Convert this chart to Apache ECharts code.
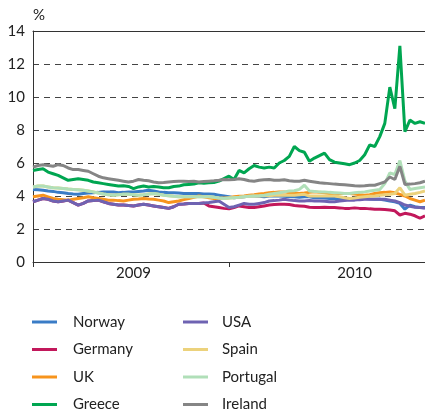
<!DOCTYPE html>
<html>
<head>
<meta charset="utf-8">
<script src="https://cdn.jsdelivr.net/npm/echarts@6/dist/echarts.min.js"></script>
<style>
  html, body { margin: 0; padding: 0; background: #fff; }
  #chart { width: 425px; height: 412px; }
</style>
</head>
<body>
<div id="chart"></div>
<script>
// daily-ish observations, mid 2009 to mid 2010 (79 samples)
const norway = [4.4, 4.38, 4.35, 4.3, 4.28, 4.22, 4.2, 4.15, 4.12, 4.1, 4.15, 4.18, 4.2, 4.22, 4.25, 4.25, 4.25, 4.2, 4.22, 4.25,
  4.25, 4.28, 4.3, 4.35, 4.3, 4.25, 4.22, 4.2, 4.2, 4.18, 4.15, 4.15, 4.15, 4.15, 4.12, 4.12, 4.1, 4.05, 4.0, 3.95,
  3.9, 3.92, 3.95, 4.0, 4.0, 3.98, 3.95, 4.0, 4.02, 4.0, 3.98, 3.95, 3.95, 3.92, 3.95, 3.95, 3.9, 3.9, 3.88, 3.85,
  3.85, 3.82, 3.8, 3.8, 3.82, 3.85, 3.85, 3.82, 3.8, 3.8, 3.75, 3.7, 3.65, 3.55, 3.2, 3.45, 3.35, 3.3, 3.3]
const germany = [3.65, 3.75, 3.85, 3.8, 3.7, 3.65, 3.7, 3.75, 3.6, 3.45, 3.55, 3.7, 3.72, 3.75, 3.65, 3.55, 3.5, 3.45, 3.45, 3.42,
  3.4, 3.45, 3.5, 3.45, 3.4, 3.35, 3.3, 3.25, 3.35, 3.5, 3.52, 3.55, 3.55, 3.55, 3.58, 3.4, 3.35, 3.3, 3.25, 3.22,
  3.3, 3.4, 3.35, 3.3, 3.3, 3.35, 3.4, 3.45, 3.48, 3.5, 3.5, 3.48, 3.42, 3.4, 3.38, 3.32, 3.3, 3.3, 3.32, 3.3,
  3.3, 3.28, 3.25, 3.25, 3.28, 3.25, 3.25, 3.22, 3.2, 3.2, 3.18, 3.15, 3.1, 2.85, 2.95, 2.9, 2.8, 2.65, 2.8]
const uk = [3.95, 4.0, 4.05, 3.95, 3.85, 3.8, 3.78, 3.75, 3.8, 3.85, 3.9, 3.95, 3.9, 3.85, 3.8, 3.75, 3.75, 3.72, 3.7, 3.75,
  3.8, 3.82, 3.85, 3.82, 3.8, 3.75, 3.7, 3.6, 3.65, 3.7, 3.78, 3.85, 3.92, 4.0, 3.95, 3.9, 3.85, 3.85, 3.88, 3.9,
  3.95, 3.98, 4.0, 4.05, 4.08, 4.12, 4.15, 4.2, 4.22, 4.25, 4.25, 4.2, 4.18, 4.15, 4.18, 4.22, 4.25, 4.22, 4.2, 4.15,
  4.15, 4.15, 4.15, 4.15, 4.12, 4.08, 4.05, 4.08, 4.15, 4.2, 4.22, 4.25, 4.2, 4.1, 4.0, 3.85, 3.75, 3.65, 3.75]
const greece = [5.55, 5.6, 5.65, 5.45, 5.35, 5.25, 5.1, 4.95, 5.0, 5.05, 5.0, 4.95, 4.85, 4.8, 4.75, 4.7, 4.65, 4.6, 4.62, 4.58,
  4.45, 4.55, 4.6, 4.55, 4.58, 4.55, 4.5, 4.5, 4.58, 4.6, 4.68, 4.7, 4.72, 4.8, 4.78, 4.8, 4.82, 4.9, 5.05, 5.2,
  5.0, 5.55, 5.4, 5.65, 5.85, 5.75, 5.7, 5.75, 5.7, 6.0, 6.15, 6.4, 7.0, 6.75, 6.65, 6.1, 6.3, 6.45, 6.6, 6.2,
  6.05, 6.0, 5.95, 5.9, 6.0, 6.15, 6.5, 7.1, 7.0, 7.6, 8.4, 10.6, 9.3, 13.1, 7.9, 8.6, 8.4, 8.5, 8.4]
const usa = [3.65, 3.75, 3.85, 3.8, 3.7, 3.65, 3.7, 3.75, 3.6, 3.45, 3.55, 3.7, 3.72, 3.75, 3.65, 3.55, 3.5, 3.45, 3.45, 3.42,
  3.4, 3.45, 3.5, 3.45, 3.4, 3.35, 3.3, 3.25, 3.35, 3.5, 3.52, 3.55, 3.55, 3.55, 3.58, 3.6, 3.65, 3.7, 3.5, 3.3,
  3.35, 3.45, 3.55, 3.5, 3.5, 3.55, 3.6, 3.7, 3.72, 3.75, 3.8, 3.75, 3.72, 3.7, 3.7, 3.72, 3.7, 3.7, 3.68, 3.65,
  3.65, 3.7, 3.72, 3.75, 3.75, 3.78, 3.8, 3.8, 3.8, 3.8, 3.8, 3.75, 3.7, 3.6, 3.45, 3.38, 3.32, 3.3, 3.25]
const spain = [4.55, 4.6, 4.6, 4.55, 4.5, 4.48, 4.45, 4.42, 4.4, 4.38, 4.35, 4.3, 4.25, 4.18, 4.12, 4.08, 4.05, 4.08, 4.1, 4.1,
  4.08, 4.05, 4.08, 4.12, 4.15, 4.1, 4.05, 4.02, 3.98, 3.95, 3.95, 3.95, 3.95, 3.95, 3.95, 3.95, 3.92, 3.88, 3.85, 3.88,
  3.9, 3.92, 3.95, 3.98, 4.0, 4.0, 4.02, 4.02, 4.05, 4.05, 4.05, 4.05, 4.05, 4.08, 4.1, 4.0, 4.0, 4.0, 4.0, 4.0,
  4.0, 3.95, 3.9, 3.85, 3.88, 3.92, 3.95, 3.98, 4.0, 4.05, 4.08, 4.1, 4.15, 4.5, 4.05, 4.1, 4.15, 4.22, 4.3]
const portugal = [4.55, 4.6, 4.6, 4.55, 4.5, 4.48, 4.45, 4.42, 4.4, 4.38, 4.35, 4.3, 4.25, 4.18, 4.12, 4.08, 4.05, 4.08, 4.1, 4.1,
  4.08, 4.05, 4.08, 4.12, 4.15, 4.1, 4.05, 4.02, 3.98, 3.95, 3.95, 3.95, 3.95, 3.95, 3.95, 3.95, 3.92, 3.88, 3.85, 3.88,
  3.9, 3.92, 3.95, 3.98, 4.0, 4.02, 4.05, 4.1, 4.15, 4.2, 4.25, 4.3, 4.32, 4.4, 4.65, 4.3, 4.28, 4.25, 4.25, 4.22,
  4.2, 4.18, 4.15, 4.15, 4.2, 4.22, 4.25, 4.3, 4.35, 4.4, 4.75, 5.4, 5.3, 6.15, 4.9, 4.4, 4.45, 4.5, 4.55]
const ireland = [5.75, 5.85, 5.9, 5.85, 5.8, 5.9, 5.85, 5.7, 5.6, 5.6, 5.55, 5.5, 5.35, 5.2, 5.1, 5.05, 5.0, 4.95, 4.9, 4.85,
  4.9, 5.0, 4.95, 4.92, 4.85, 4.8, 4.82, 4.85, 4.88, 4.9, 4.9, 4.88, 4.9, 4.85, 4.88, 4.9, 4.92, 4.95, 5.0, 4.98,
  5.0, 5.05, 5.0, 4.92, 4.9, 4.95, 4.98, 5.0, 4.95, 4.95, 4.98, 4.92, 4.9, 4.9, 4.95, 4.9, 4.85, 4.8, 4.78, 4.75,
  4.72, 4.7, 4.68, 4.65, 4.62, 4.6, 4.62, 4.65, 4.65, 4.75, 4.85, 5.15, 5.0, 5.8, 4.7, 4.72, 4.75, 4.8, 4.9]

const yearLabels = ['2009', '2010']
const yearLabelIdx = [20, 64]
const yearTickIdx = [0, 39]
const yTicks = [0, 2, 4, 6, 8, 10, 12, 14]

const days = norway.map((v, i) => String(i))

const names = ['Norway', 'Germany', 'UK', 'Greece', 'USA', 'Spain', 'Portugal', 'Ireland']
const colors = ['#3a7cc6', '#c2185b', '#f7941d', '#00a651', '#6e63b2', '#ecd27c', '#b0dfb8', '#858585']
const values = [norway, germany, uk, greece, usa, spain, portugal, ireland]

const font = 'Lato, "Open Sans", sans-serif'

const chart = echarts.init(document.getElementById('chart'))

const legendBase = {
  orient: 'vertical',
  top: 314,
  padding: 0,
  height: 110,
  icon: 'rect',
  itemWidth: 25,
  itemHeight: 3,
  itemGap: 11.5,
}

chart.setOption({
  animation: false,
  backgroundColor: '#fff',
  color: colors,
  grid: { left: 33, right: 0, top: 31, bottom: 150, containLabel: false },
  xAxis: [
    {
      type: 'category',
      data: days,
      boundaryGap: false,
      axisLine: { show: true, lineStyle: { color: '#333', width: 1 } },
      axisTick: {
        show: true,
        length: 5,
        interval: (idx) => yearTickIdx.indexOf(idx) >= 0,
        lineStyle: { color: '#333' },
      },
      axisLabel: {
        interval: (idx) => yearLabelIdx.indexOf(idx) >= 0,
        formatter: (val, idx) => {
          const k = yearLabelIdx.indexOf(idx)
          return k >= 0 ? yearLabels[k] : ''
        },
        margin: 4,
        fontSize: 15,
        color: '#222',
        fontFamily: font,
      },
      splitLine: { show: false },
    },
    {
      // top frame line
      type: 'category',
      data: days,
      boundaryGap: false,
      position: 'top',
      axisLine: { show: true, onZero: false, lineStyle: { color: '#333', width: 1 } },
      axisTick: { show: false },
      axisLabel: { show: false },
    },
  ],
  yAxis: {
    type: 'value',
    min: yTicks[0],
    max: yTicks[yTicks.length - 1],
    interval: 2,
    name: '%',
    nameLocation: 'end',
    nameGap: 8,
    nameTextStyle: { align: 'left', fontSize: 15, color: '#222', fontFamily: font },
    axisLine: { show: true, lineStyle: { color: '#333', width: 1 } },
    axisTick: { show: false },
    axisLabel: { fontSize: 15, color: '#222', margin: 8, fontFamily: font },
    splitLine: { show: true, lineStyle: { color: '#444', width: 1, type: [6, 5] } },
  },
  legend: [
    Object.assign({}, legendBase, {
      data: names.slice(0, 4),
      left: 32,
      textStyle: { fontSize: 15, color: '#222', fontFamily: font, lineHeight: 16, padding: [0, 0, 0, 11] },
    }),
    Object.assign({}, legendBase, {
      data: names.slice(4),
      left: 183,
      textStyle: { fontSize: 15, color: '#222', fontFamily: font, lineHeight: 16, padding: [0, 0, 0, 9] },
    }),
  ],
  series: names.map((n, i) => ({
    name: n,
    type: 'line',
    data: values[i],
    symbol: 'none',
    lineStyle: { width: 3, color: colors[i] },
    itemStyle: { color: colors[i] },
  })),
})
</script>
</body>
</html>
